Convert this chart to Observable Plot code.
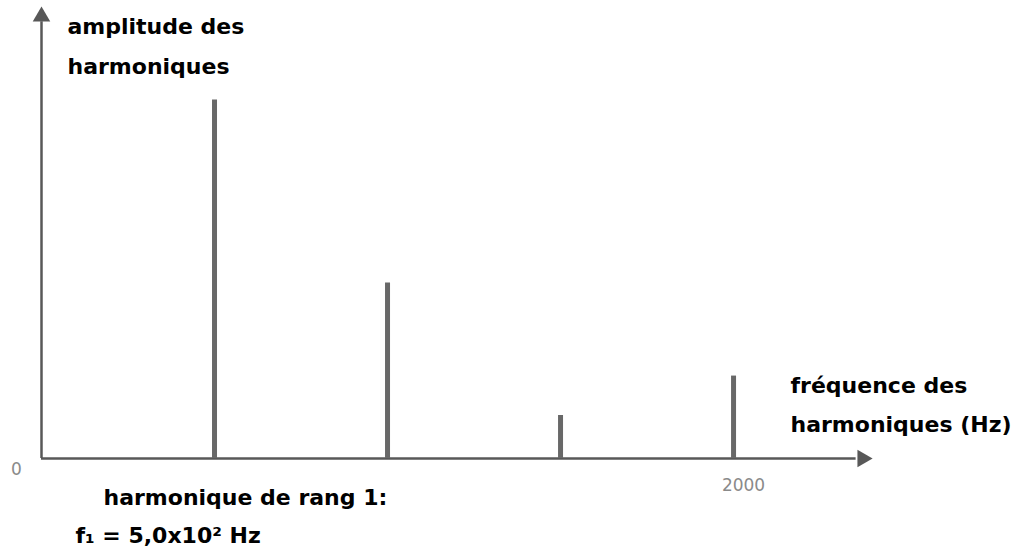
<!DOCTYPE html>
<html>
<head>
<meta charset="utf-8">
<script src="https://cdn.jsdelivr.net/npm/d3@7"></script>
<script src="https://cdn.jsdelivr.net/npm/@observablehq/plot@0.6"></script>
<style>
  html, body { margin: 0; padding: 0; background: #fff; }
  #chart svg { display: block; }
</style>
</head>
<body>
<div id="chart"></div>
<script>
// Harmonic frequencies (Hz) and relative amplitudes (arbitrary units)
const frequencies = [500, 1000, 1500, 2000];
const amplitudes = [1.0, 0.49, 0.12, 0.23];
const xTickValues = [0, 2000];
const xTickLabels = ["0", "2000"];
const yAxisLabel = ["amplitude des", "harmoniques"];
const xAxisLabel = ["fréquence des", "harmoniques (Hz)"];
const noteLines = ["harmonique de rang 1:", "f\u2081 = 5,0x10\u00B2 Hz"];

const xMax = 2390, yMax = 1.25;
const harmonics = frequencies.map((f, i) => ({f, a: amplitudes[i]}));
const font = "'DejaVu Sans', 'Open Sans', sans-serif";
const axisColor = "#585858";
const lbl = {fontSize: 22, fontWeight: "bold", fill: "#000", lineAnchor: "middle", fontFamily: font};
const tick = {fill: "#8a8a8a", fontSize: 17, fontFamily: "'DejaVu Sans', sans-serif"};

const chart = Plot.plot({
  width: 1017,
  height: 551,
  marginLeft: 41,
  marginRight: 149,
  marginTop: 10,
  marginBottom: 93,
  x: {domain: [0, xMax], axis: null},
  y: {domain: [0, yMax], axis: null},
  style: {fontFamily: font, background: "#fff"},
  marks: [
    // axes lines
    Plot.ruleY([0], {x1: 0, x2: xMax * 0.985, stroke: axisColor, strokeWidth: 2.5}),
    Plot.ruleX([0], {y1: 0, y2: yMax * 0.975, stroke: axisColor, strokeWidth: 2.5}),
    // arrowheads
    Plot.dot([xMax], {x: d => d, y: 0, symbol: "triangle", r: 6.5, rotate: 90, fill: axisColor, dx: -6}),
    Plot.dot([yMax], {x: 0, y: d => d, symbol: "triangle", r: 6.5, fill: axisColor, dy: 6}),
    // harmonic spectrum lines
    Plot.ruleX(harmonics, {x: "f", y1: 0, y2: "a", stroke: "#686868", strokeWidth: 5}),
    // tick labels
    Plot.text([xTickValues[0]], {x: d => d, y: 0, text: () => xTickLabels[0], dx: -25, dy: 11, ...tick}),
    Plot.text([xTickValues[1]], {x: d => d, y: 0, text: () => xTickLabels[1], dx: 10, dy: 27, ...tick}),
    // y axis label
    Plot.text([yAxisLabel[0]], {frameAnchor: "top-left", text: d => d, dx: 26, dy: 16, textAnchor: "start", ...lbl}),
    Plot.text([yAxisLabel[1]], {frameAnchor: "top-left", text: d => d, dx: 26, dy: 56, textAnchor: "start", ...lbl}),
    // x axis label
    Plot.text([xAxisLabel[0]], {frameAnchor: "top-right", text: d => d, dx: -78, dy: 375, textAnchor: "start", ...lbl}),
    Plot.text([xAxisLabel[1]], {frameAnchor: "top-right", text: d => d, dx: -78, dy: 414, textAnchor: "start", ...lbl}),
    // fundamental note
    Plot.text([noteLines[0]], {frameAnchor: "bottom-left", text: d => d, dx: 62, dy: 39, textAnchor: "start", ...lbl}),
    Plot.text([noteLines[1]], {frameAnchor: "bottom-left", text: d => d, dx: 34, dy: 77, textAnchor: "start", ...lbl})
  ]
});
document.getElementById("chart").appendChild(chart);
</script>
</body>
</html>
